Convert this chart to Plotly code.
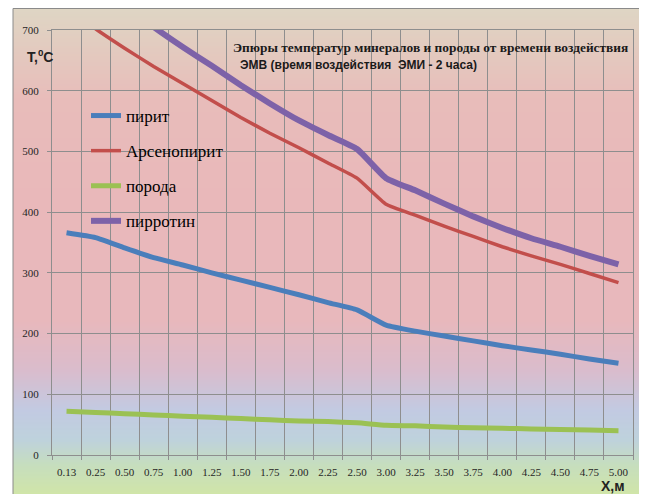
import plotly.graph_objects as go

W, H = 647, 494
OFF = 8  # page body margin offset

categories = ["0.13", "0.25", "0.50", "0.75", "1.00", "1.25", "1.50", "1.75", "2.00", "2.25",
              "2.50", "3.00", "3.25", "3.50", "3.75", "4.00", "4.25", "4.50", "4.75", "5.00"]
pyrite = [366, 358, 341, 325, 313, 300, 288, 276, 264, 251,
          239, 214, 204, 196, 188, 180, 173, 166, 158, 151]
arsenopyrite = [740, 702, 670, 640, 612, 584, 556, 530, 506, 481,
                456, 413, 395, 377, 360, 343, 328, 314, 299, 284]
rock = [72, 70, 68, 66, 64, 62, 60, 58, 56, 55,
        53, 49, 48, 46, 45, 44, 43, 42, 41, 40]
pyrrhotite = [810, 778, 742, 705, 672, 641, 609, 579, 551, 527,
              504, 456, 436, 414, 393, 374, 357, 343, 328, 314]
y_ticks = [0, 100, 200, 300, 400, 500, 600, 700]

series = [
    ("пирит", pyrite, "#4A7EBB", 5),
    ("Арсенопирит", arsenopyrite, "#C24E4B", 3.5),
    ("порода", rock, "#9BC153", 5),
    ("пирротин", pyrrhotite, "#7D62A8", 6),
]


def px(x):
    return (x - OFF) / W


def py(y):
    return 1 - (y - OFF) / H


fig = go.Figure()
for name, vals, color, width in series:
    fig.add_trace(go.Scatter(
        x=categories, y=vals, mode="lines", name=name, legendgroup=name,
        line=dict(color=color, width=width, shape="spline", smoothing=0.45),
    ))

# gradient background (chart area) via thin overlapping strips
stops = [
    (4, (222, 215, 197)),
    (40, (226, 205, 192)),
    (100, (232, 188, 186)),
    (200, (233, 184, 186)),
    (320, (232, 184, 188)),
    (370, (218, 188, 204)),
    (410, (194, 202, 226)),
    (440, (190, 210, 220)),
    (465, (198, 222, 190)),
    (494, (208, 229, 168)),
]


def color_at(y):
    for (y0, c0), (y1, c1) in zip(stops[:-1], stops[1:]):
        if y0 <= y <= y1:
            t = (y - y0) / (y1 - y0)
            return "rgb(%d,%d,%d)" % tuple(round(a + (b - a) * t) for a, b in zip(c0, c1))
    return "rgb(%d,%d,%d)" % stops[-1][1]


shapes = []
step = 2
y = 8
while y < H + OFF:
    y2 = y + step + 1.5
    shapes.append(dict(type="rect", xref="paper", yref="paper",
                       x0=px(13), x1=px(640), y0=py(y2), y1=py(y),
                       fillcolor=color_at(y + step / 2), line=dict(width=0), layer="below"))
    y += step
shapes.append(dict(type="rect", xref="paper", yref="paper",
                   x0=px(13), x1=px(640), y0=py(H + 12), y1=py(8.5),
                   fillcolor="rgba(0,0,0,0)", line=dict(color="#8A8A8A", width=1), layer="below"))

grid = "#8E8E8E"
serif = "Liberation Serif, Times New Roman, serif"
sans = "Liberation Sans, Arial, sans-serif"
tickfont = dict(family=serif, size=11, color="#262626")
fig.update_layout(
    width=W, height=H,
    margin=dict(l=0, r=0, t=0, b=0, autoexpand=False),
    paper_bgcolor="white", plot_bgcolor="rgba(0,0,0,0)",
    shapes=shapes,
    showlegend=True,
    legend=dict(x=px(86), y=py(98), xanchor="left", yanchor="top",
                bgcolor="rgba(0,0,0,0)", tracegroupgap=10,
                font=dict(family=serif, size=17, color="black")),
    xaxis=dict(domain=[px(52), px(633)], type="category", range=[-0.5, 19.5],
               automargin=False,
               tickson="boundaries", ticks="outside", ticklen=4, tickcolor=grid,
               showgrid=True, gridcolor=grid, gridwidth=1,
               showline=True, linecolor=grid, mirror=True,
               ticklabelstandoff=7, tickfont=tickfont),
    yaxis=dict(domain=[py(455), py(30)], range=[0, 700], tickvals=y_ticks,
               automargin=False,
               ticks="outside", ticklen=4, tickcolor=grid,
               showgrid=True, gridcolor=grid, gridwidth=1,
               showline=True, linecolor=grid, mirror=True, zeroline=False,
               ticklabelstandoff=6, tickfont=tickfont),
    annotations=[
        dict(text="<b>Эпюры температур минералов и породы от времени воздействия</b>",
             xref="paper", yref="paper", x=px(231), y=py(48), xanchor="left", yanchor="middle",
             showarrow=False, font=dict(family=serif, size=13.4, color="#1A1A1A")),
        dict(text="<b>ЭМВ (время воздействия  ЭМИ - 2 часа)</b>",
             xref="paper", yref="paper", x=px(238), y=py(65), xanchor="left", yanchor="middle",
             showarrow=False, font=dict(family=sans, size=12, color="#1A1A1A")),
        dict(text="<b>T,<sup>0</sup>C</b>",
             xref="paper", yref="paper", x=px(25), y=py(56), xanchor="left", yanchor="middle",
             showarrow=False, font=dict(family=sans, size=14, color="#222222")),
        dict(text="<b>X,м</b>",
             xref="paper", yref="paper", x=px(599), y=py(486), xanchor="left", yanchor="middle",
             showarrow=False, font=dict(family=sans, size=14, color="#222222")),
    ],
)

fig.write_html("out.html")
